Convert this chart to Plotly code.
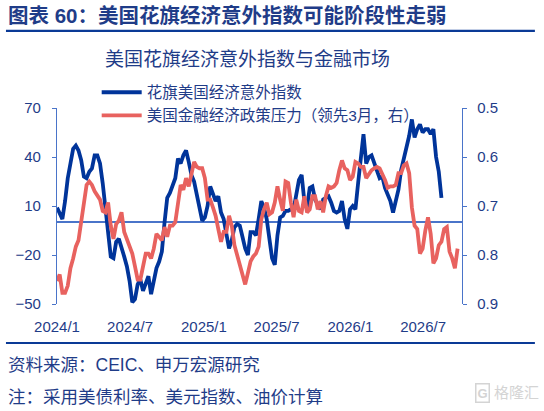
import pandas as pd
import plotly.graph_objects as go

dates = pd.date_range(start='2024-01-01', end='2026-09-25', periods=150)

citi_surprise = [
    9, 6, 2, 13, 27, 36, 45, 47, 44, 38, 28, 27, 31, 33, 41, 41, 36, 24, 9, -8,
    -21, -22, -12, -10, -15, -21, -27, -36, -49, -47, -38, -35, -42, -37, -33, -44, -37, -28, -24,
    -18, 0, 15, 18, 22, 27, 39, 36, 41, 44, 37, 29, 25, 16, 7, 1, 3, 10, 22, 18, 13,
    16, 6, 2, -6, -16, -11, -3, -1, -2, -9, -16, -20, -6, -6, -8, 2,
    13, 9, 2, -10, -22, -26, -8, 3, 4, 7, 7, 8, 8, 17, 26, 29, 13, 9, 21, 22,
    14, 11, 8, 14, 15, 16, 12, 7, 6, 7, 13, 2, -4, 8, 10, 8, 24,
    37, 54, 36, 40, 41, 36, 32, 27, 28, 21, 17, 13, 6, 13, 20, 32, 39, 45, 53, 63,
    52, 57, 60, 55, 57, 57, 54, 57, 40, 31, 15,
]

policy_pressure = [
    0.853, 0.840, 0.877, 0.877, 0.863, 0.827, 0.807, 0.783, 0.770, 0.733,
    0.687, 0.657, 0.650, 0.657, 0.670, 0.677, 0.687, 0.710, 0.713, 0.693,
    0.740, 0.767, 0.737, 0.730, 0.713, 0.753, 0.767, 0.780, 0.797, 0.823,
    0.850, 0.850, 0.820, 0.797, 0.797, 0.807, 0.787, 0.757, 0.763,
    0.770, 0.743, 0.763, 0.740, 0.740, 0.733, 0.690, 0.657, 0.667, 0.643,
    0.660, 0.637, 0.610, 0.620, 0.623, 0.623, 0.643, 0.687, 0.687, 0.703,
    0.720, 0.747, 0.773, 0.753, 0.753, 0.720, 0.740, 0.780, 0.800, 0.823,
    0.837, 0.860, 0.837, 0.813, 0.803, 0.797, 0.783,
    0.727, 0.707, 0.693, 0.717, 0.713, 0.693, 0.660, 0.687, 0.710, 0.650,
    0.653, 0.693, 0.723, 0.687, 0.710, 0.713, 0.680, 0.713, 0.707, 0.680,
    0.680, 0.707, 0.690, 0.713, 0.680, 0.660, 0.663, 0.660, 0.653, 0.627,
    0.607, 0.623, 0.627, 0.647, 0.640, 0.610, 0.613,
    0.620, 0.620, 0.643, 0.633, 0.627, 0.623, 0.620, 0.623, 0.633, 0.647,
    0.663, 0.660, 0.660, 0.657, 0.633, 0.633, 0.617, 0.613, 0.633, 0.703,
    0.740, 0.747, 0.797, 0.787, 0.750, 0.723, 0.757, 0.817, 0.807, 0.780,
    0.773, 0.747, 0.743, 0.793, 0.807, 0.827, 0.787,
]

tick_dates = ['2024-01-01', '2024-07-01', '2025-01-01', '2025-07-01', '2026-01-01', '2026-07-01']
tick_labels = ['2024/1', '2024/7', '2025/1', '2025/7', '2026/1', '2026/7']
left_ticks = [-50, -20, 10, 40, 70]
right_ticks = [0.5, 0.6, 0.7, 0.8, 0.9]

navy = '#1F3C88'
axis_blue = '#4A74C9'
font_family = 'Liberation Sans, Noto Sans CJK SC, sans-serif'

fig = go.Figure()

fig.add_trace(go.Scatter(x=dates[:len(citi_surprise)], y=citi_surprise, mode='lines',
                         name='花旗美国经济意外指数',
                         line=dict(color='#00349A', width=3.8)))
fig.add_trace(go.Scatter(x=dates[:len(policy_pressure)], y=policy_pressure, mode='lines',
                         name='美国金融经济政策压力（领先3月，右）', yaxis='y2',
                         line=dict(color='#E8625F', width=3.8)))

fig.update_layout(
    width=544, height=411, autosize=False,
    margin=dict(l=57, r=82, t=108, b=107, autoexpand=False),
    paper_bgcolor='white', plot_bgcolor='white',
    font=dict(family=font_family, color=navy, size=15),
    showlegend=True,
    legend=dict(x=0.098, y=1.165, xanchor='left', yanchor='top',
                bgcolor='rgba(0,0,0,0)', font=dict(size=15.5, color=navy),
                tracegroupgap=0, itemwidth=40),
    xaxis=dict(type='date', range=['2024-01-01', '2026-10-06'],
               tickvals=tick_dates, ticktext=tick_labels,
               showgrid=False, showline=False, zeroline=False,
               ticks='outside', ticklen=9, tickcolor='rgba(0,0,0,0)',
               tickfont=dict(size=15, color=navy)),
    xaxis2=dict(type='date', matches='x', overlaying='x', anchor='free', position=0.415,
                tickvals=tick_dates, showticklabels=False, showgrid=False,
                showline=False, zeroline=False,
                ticks='outside', ticklen=4, tickcolor=axis_blue),
    yaxis=dict(range=[-50, 70], tickvals=left_ticks, showgrid=False,
               showline=True, linecolor=axis_blue, linewidth=1.3,
               ticks='outside', ticklen=4, tickcolor=axis_blue,
               zeroline=True, zerolinecolor=axis_blue, zerolinewidth=1.5,
               ticklabelstandoff=8, tickfont=dict(size=15, color=navy)),
    yaxis2=dict(range=[0.9, 0.5], tickvals=right_ticks, ticktext=['0.5', '0.6', '0.7', '0.8', '0.9'],
                overlaying='y', side='right', showgrid=False, zeroline=False,
                showline=True, linecolor=axis_blue, linewidth=1.3,
                ticks='outside', ticklen=4, tickcolor=axis_blue,
                ticklabelstandoff=7, tickfont=dict(size=15, color=navy)),
)

# header / footer rules
fig.add_shape(type='line', xref='paper', yref='paper', x0=-0.126, x1=1.180, y0=1.393, y1=1.393,
              line=dict(color='#0A3A96', width=2.2))
fig.add_shape(type='line', xref='paper', yref='paper', x0=-0.126, x1=1.180, y0=-0.199, y1=-0.199,
              line=dict(color='#0A3A96', width=2.2))

fig.add_annotation(text='<b>图表 60：美国花旗经济意外指数可能阶段性走弱</b>', xref='paper', yref='paper',
                   x=-0.126, y=1.472, xanchor='left', yanchor='middle', showarrow=False,
                   font=dict(size=20.5, color=navy))
fig.add_annotation(text='美国花旗经济意外指数与金融市场', xref='paper', yref='paper',
                   x=0.114, y=1.245, xanchor='left', yanchor='middle', showarrow=False,
                   font=dict(size=19, color=navy))
fig.add_annotation(text='资料来源：CEIC、申万宏源研究', xref='paper', yref='paper',
                   x=-0.126, y=-0.311, xanchor='left', yanchor='middle', showarrow=False,
                   font=dict(size=17.5, color=navy))
fig.add_annotation(text='注：采用美债利率、美元指数、油价计算', xref='paper', yref='paper',
                   x=-0.126, y=-0.474, xanchor='left', yanchor='middle', showarrow=False,
                   font=dict(size=17.5, color=navy))
# watermark
fig.add_annotation(text='<b>G</b>', xref='paper', yref='paper',
                   x=1.051, y=-0.454, xanchor='center', yanchor='middle', showarrow=False,
                   bordercolor='#D4D4D4', borderwidth=1.5, borderpad=1,
                   font=dict(size=13, color='#D4D4D4'))
fig.add_annotation(text='格隆汇', xref='paper', yref='paper',
                   x=1.074, y=-0.454, xanchor='left', yanchor='middle', showarrow=False,
                   font=dict(size=15, color='#D4D4D4'))

# the page's default body margin would shift the figure by 8px
fig.write_html('out.html', config={'displayModeBar': False},
               post_script="document.body.style.margin='0';")
